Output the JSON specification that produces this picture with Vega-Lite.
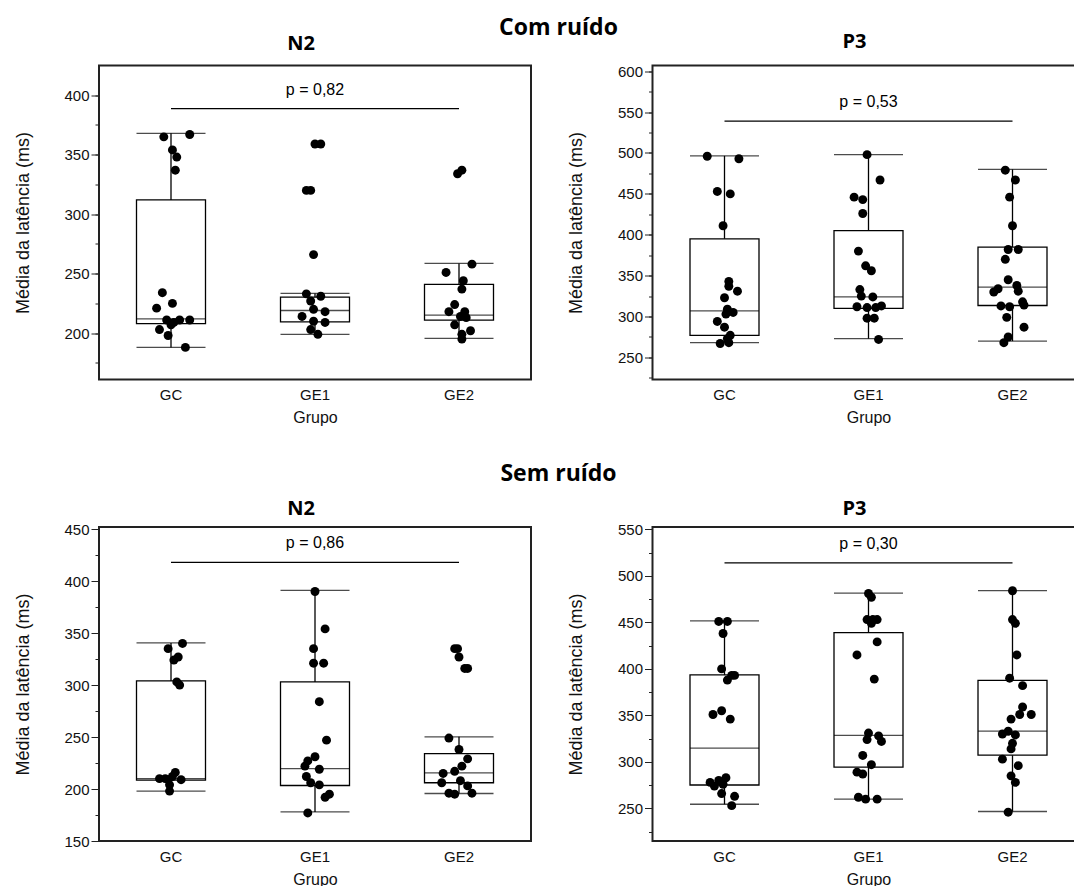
{
  "$schema": "https://vega.github.io/schema/vega-lite/v6.json",
  "usermeta": {"embedOptions": {"actions": false}},
  "padding": {"left": 13, "top": 16.5, "right": 0, "bottom": 0},
  "background": "white",
  "spacing": 35.5,
  "config": {
    "view": {"stroke": "#222", "strokeWidth": 2},
    "font": "Liberation Sans",
    "axis": {"labelFont": "Liberation Sans", "labelFontSize": 15, "labelColor": "#111", "titleFont": "Liberation Sans", "titleFontWeight": "normal", "titleColor": "#111", "grid": false},
    "title": {"font": "Open Sans", "fontWeight": "bold", "fontSize": 20, "color": "#000"},
    "concat": {"spacing": 34.5}
  },
  "datasets": {
    "pts": [
      {"p":"crN2","grupo":"GC","lat":365,"jit":-0.05},{"p":"crN2","grupo":"GC","lat":367,"jit":0.13},{"p":"crN2","grupo":"GC","lat":354,"jit":0.01},{"p":"crN2","grupo":"GC","lat":348,"jit":0.04},{"p":"crN2","grupo":"GC","lat":337,"jit":0.03},{"p":"crN2","grupo":"GC","lat":234,"jit":-0.06},{"p":"crN2","grupo":"GC","lat":225,"jit":0.01},{"p":"crN2","grupo":"GC","lat":221,"jit":-0.10},{"p":"crN2","grupo":"GC","lat":211,"jit":-0.03},{"p":"crN2","grupo":"GC","lat":211,"jit":0.06},{"p":"crN2","grupo":"GC","lat":211,"jit":0.13},{"p":"crN2","grupo":"GC","lat":207,"jit":0.0},{"p":"crN2","grupo":"GC","lat":209,"jit":0.02},{"p":"crN2","grupo":"GC","lat":203,"jit":-0.08},{"p":"crN2","grupo":"GC","lat":198,"jit":-0.02},{"p":"crN2","grupo":"GC","lat":188,"jit":0.10},
      {"p":"crN2","grupo":"GE1","lat":359,"jit":0.0},{"p":"crN2","grupo":"GE1","lat":359,"jit":0.04},{"p":"crN2","grupo":"GE1","lat":320,"jit":-0.06},{"p":"crN2","grupo":"GE1","lat":320,"jit":-0.03},{"p":"crN2","grupo":"GE1","lat":266,"jit":-0.01},{"p":"crN2","grupo":"GE1","lat":233,"jit":-0.06},{"p":"crN2","grupo":"GE1","lat":231,"jit":0.04},{"p":"crN2","grupo":"GE1","lat":227,"jit":-0.03},{"p":"crN2","grupo":"GE1","lat":220,"jit":-0.01},{"p":"crN2","grupo":"GE1","lat":218,"jit":0.07},{"p":"crN2","grupo":"GE1","lat":214,"jit":-0.09},{"p":"crN2","grupo":"GE1","lat":210,"jit":-0.01},{"p":"crN2","grupo":"GE1","lat":209,"jit":0.07},{"p":"crN2","grupo":"GE1","lat":203,"jit":-0.03},{"p":"crN2","grupo":"GE1","lat":199,"jit":0.02},
      {"p":"crN2","grupo":"GE2","lat":337,"jit":0.02},{"p":"crN2","grupo":"GE2","lat":334,"jit":-0.01},{"p":"crN2","grupo":"GE2","lat":258,"jit":0.09},{"p":"crN2","grupo":"GE2","lat":251,"jit":-0.09},{"p":"crN2","grupo":"GE2","lat":244,"jit":0.03},{"p":"crN2","grupo":"GE2","lat":237,"jit":0.02},{"p":"crN2","grupo":"GE2","lat":224,"jit":-0.03},{"p":"crN2","grupo":"GE2","lat":218,"jit":-0.07},{"p":"crN2","grupo":"GE2","lat":218,"jit":0.04},{"p":"crN2","grupo":"GE2","lat":214,"jit":0.01},{"p":"crN2","grupo":"GE2","lat":213,"jit":0.05},{"p":"crN2","grupo":"GE2","lat":207,"jit":-0.03},{"p":"crN2","grupo":"GE2","lat":202,"jit":0.08},{"p":"crN2","grupo":"GE2","lat":199,"jit":0.02},{"p":"crN2","grupo":"GE2","lat":195,"jit":0.02},

      {"p":"crP3","grupo":"GC","lat":496,"jit":-0.12},{"p":"crP3","grupo":"GC","lat":493,"jit":0.10},{"p":"crP3","grupo":"GC","lat":453,"jit":-0.05},{"p":"crP3","grupo":"GC","lat":450,"jit":0.04},{"p":"crP3","grupo":"GC","lat":411,"jit":-0.01},{"p":"crP3","grupo":"GC","lat":343,"jit":0.03},{"p":"crP3","grupo":"GC","lat":337,"jit":0.03},{"p":"crP3","grupo":"GC","lat":331,"jit":0.09},{"p":"crP3","grupo":"GC","lat":323,"jit":0.0},{"p":"crP3","grupo":"GC","lat":309,"jit":0.02},{"p":"crP3","grupo":"GC","lat":305,"jit":0.06},{"p":"crP3","grupo":"GC","lat":303,"jit":0.01},{"p":"crP3","grupo":"GC","lat":294,"jit":-0.05},{"p":"crP3","grupo":"GC","lat":287,"jit":0.0},{"p":"crP3","grupo":"GC","lat":277,"jit":0.04},{"p":"crP3","grupo":"GC","lat":273,"jit":0.02},{"p":"crP3","grupo":"GC","lat":267,"jit":-0.03},{"p":"crP3","grupo":"GC","lat":268,"jit":0.03},
      {"p":"crP3","grupo":"GE1","lat":498,"jit":-0.01},{"p":"crP3","grupo":"GE1","lat":467,"jit":0.08},{"p":"crP3","grupo":"GE1","lat":446,"jit":-0.10},{"p":"crP3","grupo":"GE1","lat":443,"jit":-0.04},{"p":"crP3","grupo":"GE1","lat":426,"jit":-0.04},{"p":"crP3","grupo":"GE1","lat":380,"jit":-0.07},{"p":"crP3","grupo":"GE1","lat":362,"jit":-0.02},{"p":"crP3","grupo":"GE1","lat":356,"jit":0.02},{"p":"crP3","grupo":"GE1","lat":333,"jit":-0.06},{"p":"crP3","grupo":"GE1","lat":325,"jit":-0.05},{"p":"crP3","grupo":"GE1","lat":324,"jit":0.03},{"p":"crP3","grupo":"GE1","lat":312,"jit":-0.08},{"p":"crP3","grupo":"GE1","lat":311,"jit":-0.01},{"p":"crP3","grupo":"GE1","lat":313,"jit":0.09},{"p":"crP3","grupo":"GE1","lat":311,"jit":0.05},{"p":"crP3","grupo":"GE1","lat":298,"jit":-0.01},{"p":"crP3","grupo":"GE1","lat":298,"jit":0.04},{"p":"crP3","grupo":"GE1","lat":272,"jit":0.07},
      {"p":"crP3","grupo":"GE2","lat":479,"jit":-0.05},{"p":"crP3","grupo":"GE2","lat":467,"jit":0.02},{"p":"crP3","grupo":"GE2","lat":446,"jit":-0.02},{"p":"crP3","grupo":"GE2","lat":411,"jit":0.0},{"p":"crP3","grupo":"GE2","lat":382,"jit":-0.03},{"p":"crP3","grupo":"GE2","lat":382,"jit":0.04},{"p":"crP3","grupo":"GE2","lat":370,"jit":-0.05},{"p":"crP3","grupo":"GE2","lat":345,"jit":-0.03},{"p":"crP3","grupo":"GE2","lat":338,"jit":0.03},{"p":"crP3","grupo":"GE2","lat":334,"jit":-0.10},{"p":"crP3","grupo":"GE2","lat":330,"jit":-0.13},{"p":"crP3","grupo":"GE2","lat":331,"jit":0.04},{"p":"crP3","grupo":"GE2","lat":313,"jit":-0.08},{"p":"crP3","grupo":"GE2","lat":312,"jit":-0.02},{"p":"crP3","grupo":"GE2","lat":318,"jit":0.07},{"p":"crP3","grupo":"GE2","lat":314,"jit":0.08},{"p":"crP3","grupo":"GE2","lat":299,"jit":-0.04},{"p":"crP3","grupo":"GE2","lat":287,"jit":0.08},{"p":"crP3","grupo":"GE2","lat":275,"jit":-0.03},{"p":"crP3","grupo":"GE2","lat":268,"jit":-0.06},

      {"p":"srN2","grupo":"GC","lat":340,"jit":0.08},{"p":"srN2","grupo":"GC","lat":335,"jit":-0.02},{"p":"srN2","grupo":"GC","lat":327,"jit":0.05},{"p":"srN2","grupo":"GC","lat":324,"jit":0.02},{"p":"srN2","grupo":"GC","lat":303,"jit":0.04},{"p":"srN2","grupo":"GC","lat":300,"jit":0.06},{"p":"srN2","grupo":"GC","lat":210,"jit":-0.08},{"p":"srN2","grupo":"GC","lat":209,"jit":-0.02},{"p":"srN2","grupo":"GC","lat":216,"jit":0.03},{"p":"srN2","grupo":"GC","lat":212,"jit":0.01},{"p":"srN2","grupo":"GC","lat":209,"jit":0.07},{"p":"srN2","grupo":"GC","lat":204,"jit":-0.01},{"p":"srN2","grupo":"GC","lat":198,"jit":-0.01},{"p":"srN2","grupo":"GC","lat":210,"jit":-0.04},
      {"p":"srN2","grupo":"GE1","lat":390,"jit":0.0},{"p":"srN2","grupo":"GE1","lat":354,"jit":0.07},{"p":"srN2","grupo":"GE1","lat":335,"jit":-0.01},{"p":"srN2","grupo":"GE1","lat":321,"jit":-0.01},{"p":"srN2","grupo":"GE1","lat":321,"jit":0.06},{"p":"srN2","grupo":"GE1","lat":284,"jit":0.03},{"p":"srN2","grupo":"GE1","lat":247,"jit":0.08},{"p":"srN2","grupo":"GE1","lat":231,"jit":0.0},{"p":"srN2","grupo":"GE1","lat":227,"jit":-0.05},{"p":"srN2","grupo":"GE1","lat":222,"jit":-0.07},{"p":"srN2","grupo":"GE1","lat":219,"jit":0.03},{"p":"srN2","grupo":"GE1","lat":212,"jit":-0.06},{"p":"srN2","grupo":"GE1","lat":206,"jit":-0.03},{"p":"srN2","grupo":"GE1","lat":204,"jit":0.03},{"p":"srN2","grupo":"GE1","lat":195,"jit":0.10},{"p":"srN2","grupo":"GE1","lat":192,"jit":0.07},{"p":"srN2","grupo":"GE1","lat":177,"jit":-0.05},
      {"p":"srN2","grupo":"GE2","lat":335,"jit":-0.03},{"p":"srN2","grupo":"GE2","lat":335,"jit":-0.01},{"p":"srN2","grupo":"GE2","lat":327,"jit":0.0},{"p":"srN2","grupo":"GE2","lat":316,"jit":0.04},{"p":"srN2","grupo":"GE2","lat":316,"jit":0.06},{"p":"srN2","grupo":"GE2","lat":249,"jit":-0.07},{"p":"srN2","grupo":"GE2","lat":238,"jit":0.0},{"p":"srN2","grupo":"GE2","lat":229,"jit":0.06},{"p":"srN2","grupo":"GE2","lat":222,"jit":0.02},{"p":"srN2","grupo":"GE2","lat":217,"jit":-0.03},{"p":"srN2","grupo":"GE2","lat":215,"jit":-0.11},{"p":"srN2","grupo":"GE2","lat":208,"jit":0.01},{"p":"srN2","grupo":"GE2","lat":206,"jit":-0.12},{"p":"srN2","grupo":"GE2","lat":203,"jit":0.06},{"p":"srN2","grupo":"GE2","lat":196,"jit":-0.07},{"p":"srN2","grupo":"GE2","lat":195,"jit":-0.03},{"p":"srN2","grupo":"GE2","lat":196,"jit":0.09},

      {"p":"srP3","grupo":"GC","lat":451,"jit":-0.04},{"p":"srP3","grupo":"GC","lat":451,"jit":0.02},{"p":"srP3","grupo":"GC","lat":438,"jit":-0.01},{"p":"srP3","grupo":"GC","lat":400,"jit":-0.02},{"p":"srP3","grupo":"GC","lat":393,"jit":0.05},{"p":"srP3","grupo":"GC","lat":393,"jit":0.07},{"p":"srP3","grupo":"GC","lat":388,"jit":0.02},{"p":"srP3","grupo":"GC","lat":351,"jit":-0.08},{"p":"srP3","grupo":"GC","lat":355,"jit":-0.02},{"p":"srP3","grupo":"GC","lat":346,"jit":0.04},{"p":"srP3","grupo":"GC","lat":283,"jit":0.01},{"p":"srP3","grupo":"GC","lat":278,"jit":-0.10},{"p":"srP3","grupo":"GC","lat":274,"jit":-0.07},{"p":"srP3","grupo":"GC","lat":280,"jit":-0.04},{"p":"srP3","grupo":"GC","lat":276,"jit":-0.01},{"p":"srP3","grupo":"GC","lat":266,"jit":-0.02},{"p":"srP3","grupo":"GC","lat":263,"jit":0.07},{"p":"srP3","grupo":"GC","lat":253,"jit":0.05},
      {"p":"srP3","grupo":"GE1","lat":481,"jit":0.0},{"p":"srP3","grupo":"GE1","lat":477,"jit":0.02},{"p":"srP3","grupo":"GE1","lat":453,"jit":-0.01},{"p":"srP3","grupo":"GE1","lat":453,"jit":0.03},{"p":"srP3","grupo":"GE1","lat":453,"jit":0.06},{"p":"srP3","grupo":"GE1","lat":449,"jit":0.02},{"p":"srP3","grupo":"GE1","lat":429,"jit":0.06},{"p":"srP3","grupo":"GE1","lat":415,"jit":-0.08},{"p":"srP3","grupo":"GE1","lat":389,"jit":0.04},{"p":"srP3","grupo":"GE1","lat":331,"jit":0.0},{"p":"srP3","grupo":"GE1","lat":328,"jit":0.07},{"p":"srP3","grupo":"GE1","lat":324,"jit":-0.01},{"p":"srP3","grupo":"GE1","lat":322,"jit":0.09},{"p":"srP3","grupo":"GE1","lat":307,"jit":-0.04},{"p":"srP3","grupo":"GE1","lat":297,"jit":0.02},{"p":"srP3","grupo":"GE1","lat":289,"jit":-0.08},{"p":"srP3","grupo":"GE1","lat":287,"jit":-0.04},{"p":"srP3","grupo":"GE1","lat":262,"jit":-0.07},{"p":"srP3","grupo":"GE1","lat":260,"jit":-0.02},{"p":"srP3","grupo":"GE1","lat":260,"jit":0.06},
      {"p":"srP3","grupo":"GE2","lat":484,"jit":0.0},{"p":"srP3","grupo":"GE2","lat":453,"jit":0.0},{"p":"srP3","grupo":"GE2","lat":449,"jit":0.02},{"p":"srP3","grupo":"GE2","lat":415,"jit":0.03},{"p":"srP3","grupo":"GE2","lat":390,"jit":-0.02},{"p":"srP3","grupo":"GE2","lat":382,"jit":0.07},{"p":"srP3","grupo":"GE2","lat":359,"jit":0.07},{"p":"srP3","grupo":"GE2","lat":351,"jit":0.05},{"p":"srP3","grupo":"GE2","lat":351,"jit":0.13},{"p":"srP3","grupo":"GE2","lat":346,"jit":-0.01},{"p":"srP3","grupo":"GE2","lat":330,"jit":-0.07},{"p":"srP3","grupo":"GE2","lat":333,"jit":-0.03},{"p":"srP3","grupo":"GE2","lat":329,"jit":0.02},{"p":"srP3","grupo":"GE2","lat":320,"jit":0.0},{"p":"srP3","grupo":"GE2","lat":314,"jit":-0.01},{"p":"srP3","grupo":"GE2","lat":303,"jit":-0.07},{"p":"srP3","grupo":"GE2","lat":296,"jit":0.04},{"p":"srP3","grupo":"GE2","lat":285,"jit":-0.01},{"p":"srP3","grupo":"GE2","lat":278,"jit":0.02},{"p":"srP3","grupo":"GE2","lat":246,"jit":-0.03}
    ],
    "box": [
      {"p":"crN2","grupo":"GC","min":188,"q1":208,"med":212,"q3":312,"max":368},
      {"p":"crN2","grupo":"GE1","min":199,"q1":209.4,"med":219,"q3":230.2,"max":233.4},
      {"p":"crN2","grupo":"GE2","min":195.5,"q1":211,"med":215.1,"q3":240.9,"max":258.6},
      {"p":"crP3","grupo":"GC","min":268,"q1":277,"med":307,"q3":395,"max":496.5},
      {"p":"crP3","grupo":"GE1","min":273,"q1":310,"med":324,"q3":405,"max":498},
      {"p":"crP3","grupo":"GE2","min":270,"q1":313.5,"med":336,"q3":385,"max":480},
      {"p":"srN2","grupo":"GC","min":198,"q1":208.5,"med":210,"q3":304,"max":340.5},
      {"p":"srN2","grupo":"GE1","min":178,"q1":203.4,"med":219.7,"q3":303,"max":391},
      {"p":"srN2","grupo":"GE2","min":195.7,"q1":206,"med":215.6,"q3":234,"max":250.2},
      {"p":"srP3","grupo":"GC","min":254.5,"q1":275.2,"med":314.9,"q3":393.5,"max":451.7},
      {"p":"srP3","grupo":"GE1","min":260,"q1":294.5,"med":328.5,"q3":439,"max":481.4},
      {"p":"srP3","grupo":"GE2","min":246.7,"q1":307.3,"med":333.1,"q3":387.7,"max":484.2}
    ],
    "pv": [
      {"p":"crN2","from":"GC","to":"GE2","mid":"GE1","y":388.7,"label":"p = 0,82"},
      {"p":"crP3","from":"GC","to":"GE2","mid":"GE1","y":539,"label":"p = 0,53"},
      {"p":"srN2","from":"GC","to":"GE2","mid":"GE1","y":418,"label":"p = 0,86"},
      {"p":"srP3","from":"GC","to":"GE2","mid":"GE1","y":514,"label":"p = 0,30"}
    ]
  },
  "vconcat": [
    {
      "title": {"text": "Com ruído", "fontSize": 23, "anchor": "middle", "offset": -9, "dx": 9},
      "hconcat": [
        {
          "title": {"text": "N2", "frame": "group", "dx": -14, "offset": 12},
          "width": 432, "height": 314,
          "resolve": {"axis": {"y": "independent"}},
          "layer": [
            {"data": {"name": "box"}, "transform": [{"filter": "datum.p === 'crN2'"}],
             "mark": {"type": "rule", "color": "#000", "strokeWidth": 1.3},
             "encoding": {
               "x": {"field": "grupo", "type": "nominal", "scale": {"domain": ["GC","GE1","GE2"], "paddingInner": 0, "paddingOuter": 0},
                     "axis": {"title": "Grupo", "titleFontSize": 16, "labelAngle": 0, "ticks": false, "domain": false, "labelPadding": 8, "titlePadding": 7}},
               "y": {"field": "min", "type": "quantitative", "scale": {"domain": [161, 425], "nice": false, "zero": false},
                     "axis": {"title": "Média da latência (ms)", "titleFontSize": 18, "titlePadding": 31.5, "values": [200,250,300,350,400], "labelOverlap": false, "tickSize": 8, "tickColor": "#222", "domain": false, "labelPadding": 2}},
               "y2": {"field": "max"}}},
            {"data": {"name": "box"}, "transform": [{"filter": "datum.p === 'crN2'"}],
             "mark": {"type": "bar", "fill": "#fff", "stroke": "#000", "strokeWidth": 1.3, "width": 69},
             "encoding": {"x": {"field": "grupo", "type": "nominal"}, "y": {"field": "q3", "type": "quantitative", "axis": null}, "y2": {"field": "q1"}}},
            {"data": {"name": "box"}, "transform": [{"filter": "datum.p === 'crN2'"}],
             "mark": {"type": "tick", "color": "#000", "size": 69, "thickness": 1.3},
             "encoding": {"x": {"field": "grupo", "type": "nominal"}, "y": {"field": "med", "type": "quantitative", "axis": null}}},
            {"data": {"name": "box"}, "transform": [{"filter": "datum.p === 'crN2'"}],
             "mark": {"type": "tick", "color": "#000", "size": 69, "thickness": 1.3},
             "encoding": {"x": {"field": "grupo", "type": "nominal"}, "y": {"field": "max", "type": "quantitative", "axis": null}}},
            {"data": {"name": "box"}, "transform": [{"filter": "datum.p === 'crN2'"}],
             "mark": {"type": "tick", "color": "#000", "size": 69, "thickness": 1.3},
             "encoding": {"x": {"field": "grupo", "type": "nominal"}, "y": {"field": "min", "type": "quantitative", "axis": null}}},
            {"data": {"name": "pts"}, "transform": [{"filter": "datum.p === 'crN2'"}],
             "mark": {"type": "circle", "size": 80, "color": "#000", "opacity": 1},
             "encoding": {"x": {"field": "grupo", "type": "nominal"}, "xOffset": {"field": "jit", "type": "quantitative", "scale": {"domain": [-0.5, 0.5], "range": [0, 144]}},
                          "y": {"field": "lat", "type": "quantitative", "axis": {"orient": "left", "values": [175,200,225,250,275,300,325,350,375,400], "tickSize": 4, "labels": false, "title": null, "domain": false, "tickColor": "#222"}}}},
            {"data": {"name": "pv"}, "transform": [{"filter": "datum.p === 'crN2'"}],
             "mark": {"type": "rule", "color": "#000", "strokeWidth": 1.3},
             "encoding": {"x": {"field": "from", "type": "nominal"}, "x2": {"field": "to"}, "y": {"field": "y", "type": "quantitative", "axis": null}}},
            {"data": {"name": "pv"}, "transform": [{"filter": "datum.p === 'crN2'"}],
             "mark": {"type": "text", "dy": -19, "fontSize": 16, "font": "Liberation Sans", "color": "#000"},
             "encoding": {"x": {"field": "mid", "type": "nominal"}, "y": {"field": "y", "type": "quantitative", "axis": null}, "text": {"field": "label"}}}
          ]
        },
        {
          "title": {"text": "P3", "frame": "group", "dx": -14, "offset": 12},
          "width": 432, "height": 314,
          "resolve": {"axis": {"y": "independent"}},
          "layer": [
            {"data": {"name": "box"}, "transform": [{"filter": "datum.p === 'crP3'"}],
             "mark": {"type": "rule", "color": "#000", "strokeWidth": 1.3},
             "encoding": {
               "x": {"field": "grupo", "type": "nominal", "scale": {"domain": ["GC","GE1","GE2"], "paddingInner": 0, "paddingOuter": 0},
                     "axis": {"title": "Grupo", "titleFontSize": 16, "labelAngle": 0, "ticks": false, "domain": false, "labelPadding": 8, "titlePadding": 7}},
               "y": {"field": "min", "type": "quantitative", "scale": {"domain": [223, 607], "nice": false, "zero": false},
                     "axis": {"title": "Média da latência (ms)", "titleFontSize": 18, "titlePadding": 31.5, "values": [250,300,350,400,450,500,550,600], "labelOverlap": false, "tickSize": 8, "tickColor": "#222", "domain": false, "labelPadding": 2}},
               "y2": {"field": "max"}}},
            {"data": {"name": "box"}, "transform": [{"filter": "datum.p === 'crP3'"}],
             "mark": {"type": "bar", "fill": "#fff", "stroke": "#000", "strokeWidth": 1.3, "width": 69},
             "encoding": {"x": {"field": "grupo", "type": "nominal"}, "y": {"field": "q3", "type": "quantitative", "axis": null}, "y2": {"field": "q1"}}},
            {"data": {"name": "box"}, "transform": [{"filter": "datum.p === 'crP3'"}],
             "mark": {"type": "tick", "color": "#000", "size": 69, "thickness": 1.3},
             "encoding": {"x": {"field": "grupo", "type": "nominal"}, "y": {"field": "med", "type": "quantitative", "axis": null}}},
            {"data": {"name": "box"}, "transform": [{"filter": "datum.p === 'crP3'"}],
             "mark": {"type": "tick", "color": "#000", "size": 69, "thickness": 1.3},
             "encoding": {"x": {"field": "grupo", "type": "nominal"}, "y": {"field": "max", "type": "quantitative", "axis": null}}},
            {"data": {"name": "box"}, "transform": [{"filter": "datum.p === 'crP3'"}],
             "mark": {"type": "tick", "color": "#000", "size": 69, "thickness": 1.3},
             "encoding": {"x": {"field": "grupo", "type": "nominal"}, "y": {"field": "min", "type": "quantitative", "axis": null}}},
            {"data": {"name": "pts"}, "transform": [{"filter": "datum.p === 'crP3'"}],
             "mark": {"type": "circle", "size": 80, "color": "#000", "opacity": 1},
             "encoding": {"x": {"field": "grupo", "type": "nominal"}, "xOffset": {"field": "jit", "type": "quantitative", "scale": {"domain": [-0.5, 0.5], "range": [0, 144]}},
                          "y": {"field": "lat", "type": "quantitative", "axis": {"orient": "left", "values": [225,250,275,300,325,350,375,400,425,450,475,500,525,550,575,600], "tickSize": 4, "labels": false, "title": null, "domain": false, "tickColor": "#222"}}}},
            {"data": {"name": "pv"}, "transform": [{"filter": "datum.p === 'crP3'"}],
             "mark": {"type": "rule", "color": "#000", "strokeWidth": 1.3},
             "encoding": {"x": {"field": "from", "type": "nominal"}, "x2": {"field": "to"}, "y": {"field": "y", "type": "quantitative", "axis": null}}},
            {"data": {"name": "pv"}, "transform": [{"filter": "datum.p === 'crP3'"}],
             "mark": {"type": "text", "dy": -19, "fontSize": 16, "font": "Liberation Sans", "color": "#000"},
             "encoding": {"x": {"field": "mid", "type": "nominal"}, "y": {"field": "y", "type": "quantitative", "axis": null}, "text": {"field": "label"}}}
          ]
        }
      ]
    },
    {
      "title": {"text": "Sem ruído", "fontSize": 23, "anchor": "middle", "offset": 12, "dx": 9},
      "hconcat": [
        {
          "title": {"text": "N2", "frame": "group", "dx": -14, "offset": 3.5},
          "width": 432, "height": 314,
          "resolve": {"axis": {"y": "independent"}},
          "layer": [
            {"data": {"name": "box"}, "transform": [{"filter": "datum.p === 'srN2'"}],
             "mark": {"type": "rule", "color": "#000", "strokeWidth": 1.3},
             "encoding": {
               "x": {"field": "grupo", "type": "nominal", "scale": {"domain": ["GC","GE1","GE2"], "paddingInner": 0, "paddingOuter": 0},
                     "axis": {"title": "Grupo", "titleFontSize": 16, "labelAngle": 0, "ticks": false, "domain": false, "labelPadding": 8, "titlePadding": 7}},
               "y": {"field": "min", "type": "quantitative", "scale": {"domain": [150, 452], "nice": false, "zero": false},
                     "axis": {"title": "Média da latência (ms)", "titleFontSize": 18, "titlePadding": 31.5, "values": [150,200,250,300,350,400,450], "labelOverlap": false, "tickSize": 8, "tickColor": "#222", "domain": false, "labelPadding": 2}},
               "y2": {"field": "max"}}},
            {"data": {"name": "box"}, "transform": [{"filter": "datum.p === 'srN2'"}],
             "mark": {"type": "bar", "fill": "#fff", "stroke": "#000", "strokeWidth": 1.3, "width": 69},
             "encoding": {"x": {"field": "grupo", "type": "nominal"}, "y": {"field": "q3", "type": "quantitative", "axis": null}, "y2": {"field": "q1"}}},
            {"data": {"name": "box"}, "transform": [{"filter": "datum.p === 'srN2'"}],
             "mark": {"type": "tick", "color": "#000", "size": 69, "thickness": 1.3},
             "encoding": {"x": {"field": "grupo", "type": "nominal"}, "y": {"field": "med", "type": "quantitative", "axis": null}}},
            {"data": {"name": "box"}, "transform": [{"filter": "datum.p === 'srN2'"}],
             "mark": {"type": "tick", "color": "#000", "size": 69, "thickness": 1.3},
             "encoding": {"x": {"field": "grupo", "type": "nominal"}, "y": {"field": "max", "type": "quantitative", "axis": null}}},
            {"data": {"name": "box"}, "transform": [{"filter": "datum.p === 'srN2'"}],
             "mark": {"type": "tick", "color": "#000", "size": 69, "thickness": 1.3},
             "encoding": {"x": {"field": "grupo", "type": "nominal"}, "y": {"field": "min", "type": "quantitative", "axis": null}}},
            {"data": {"name": "pts"}, "transform": [{"filter": "datum.p === 'srN2'"}],
             "mark": {"type": "circle", "size": 80, "color": "#000", "opacity": 1},
             "encoding": {"x": {"field": "grupo", "type": "nominal"}, "xOffset": {"field": "jit", "type": "quantitative", "scale": {"domain": [-0.5, 0.5], "range": [0, 144]}},
                          "y": {"field": "lat", "type": "quantitative", "axis": {"orient": "left", "values": [150,175,200,225,250,275,300,325,350,375,400,425,450], "tickSize": 4, "labels": false, "title": null, "domain": false, "tickColor": "#222"}}}},
            {"data": {"name": "pv"}, "transform": [{"filter": "datum.p === 'srN2'"}],
             "mark": {"type": "rule", "color": "#000", "strokeWidth": 1.3},
             "encoding": {"x": {"field": "from", "type": "nominal"}, "x2": {"field": "to"}, "y": {"field": "y", "type": "quantitative", "axis": null}}},
            {"data": {"name": "pv"}, "transform": [{"filter": "datum.p === 'srN2'"}],
             "mark": {"type": "text", "dy": -19, "fontSize": 16, "font": "Liberation Sans", "color": "#000"},
             "encoding": {"x": {"field": "mid", "type": "nominal"}, "y": {"field": "y", "type": "quantitative", "axis": null}, "text": {"field": "label"}}}
          ]
        },
        {
          "title": {"text": "P3", "frame": "group", "dx": -14, "offset": 3.5},
          "width": 432, "height": 314,
          "resolve": {"axis": {"y": "independent"}},
          "layer": [
            {"data": {"name": "box"}, "transform": [{"filter": "datum.p === 'srP3'"}],
             "mark": {"type": "rule", "color": "#000", "strokeWidth": 1.3},
             "encoding": {
               "x": {"field": "grupo", "type": "nominal", "scale": {"domain": ["GC","GE1","GE2"], "paddingInner": 0, "paddingOuter": 0},
                     "axis": {"title": "Grupo", "titleFontSize": 16, "labelAngle": 0, "ticks": false, "domain": false, "labelPadding": 8, "titlePadding": 7}},
               "y": {"field": "min", "type": "quantitative", "scale": {"domain": [215, 552.5], "nice": false, "zero": false},
                     "axis": {"title": "Média da latência (ms)", "titleFontSize": 18, "titlePadding": 31.5, "values": [250,300,350,400,450,500,550], "labelOverlap": false, "tickSize": 8, "tickColor": "#222", "domain": false, "labelPadding": 2}},
               "y2": {"field": "max"}}},
            {"data": {"name": "box"}, "transform": [{"filter": "datum.p === 'srP3'"}],
             "mark": {"type": "bar", "fill": "#fff", "stroke": "#000", "strokeWidth": 1.3, "width": 69},
             "encoding": {"x": {"field": "grupo", "type": "nominal"}, "y": {"field": "q3", "type": "quantitative", "axis": null}, "y2": {"field": "q1"}}},
            {"data": {"name": "box"}, "transform": [{"filter": "datum.p === 'srP3'"}],
             "mark": {"type": "tick", "color": "#000", "size": 69, "thickness": 1.3},
             "encoding": {"x": {"field": "grupo", "type": "nominal"}, "y": {"field": "med", "type": "quantitative", "axis": null}}},
            {"data": {"name": "box"}, "transform": [{"filter": "datum.p === 'srP3'"}],
             "mark": {"type": "tick", "color": "#000", "size": 69, "thickness": 1.3},
             "encoding": {"x": {"field": "grupo", "type": "nominal"}, "y": {"field": "max", "type": "quantitative", "axis": null}}},
            {"data": {"name": "box"}, "transform": [{"filter": "datum.p === 'srP3'"}],
             "mark": {"type": "tick", "color": "#000", "size": 69, "thickness": 1.3},
             "encoding": {"x": {"field": "grupo", "type": "nominal"}, "y": {"field": "min", "type": "quantitative", "axis": null}}},
            {"data": {"name": "pts"}, "transform": [{"filter": "datum.p === 'srP3'"}],
             "mark": {"type": "circle", "size": 80, "color": "#000", "opacity": 1},
             "encoding": {"x": {"field": "grupo", "type": "nominal"}, "xOffset": {"field": "jit", "type": "quantitative", "scale": {"domain": [-0.5, 0.5], "range": [0, 144]}},
                          "y": {"field": "lat", "type": "quantitative", "axis": {"orient": "left", "values": [225,250,275,300,325,350,375,400,425,450,475,500,525,550], "tickSize": 4, "labels": false, "title": null, "domain": false, "tickColor": "#222"}}}},
            {"data": {"name": "pv"}, "transform": [{"filter": "datum.p === 'srP3'"}],
             "mark": {"type": "rule", "color": "#000", "strokeWidth": 1.3},
             "encoding": {"x": {"field": "from", "type": "nominal"}, "x2": {"field": "to"}, "y": {"field": "y", "type": "quantitative", "axis": null}}},
            {"data": {"name": "pv"}, "transform": [{"filter": "datum.p === 'srP3'"}],
             "mark": {"type": "text", "dy": -19, "fontSize": 16, "font": "Liberation Sans", "color": "#000"},
             "encoding": {"x": {"field": "mid", "type": "nominal"}, "y": {"field": "y", "type": "quantitative", "axis": null}, "text": {"field": "label"}}}
          ]
        }
      ]
    }
  ]
}
